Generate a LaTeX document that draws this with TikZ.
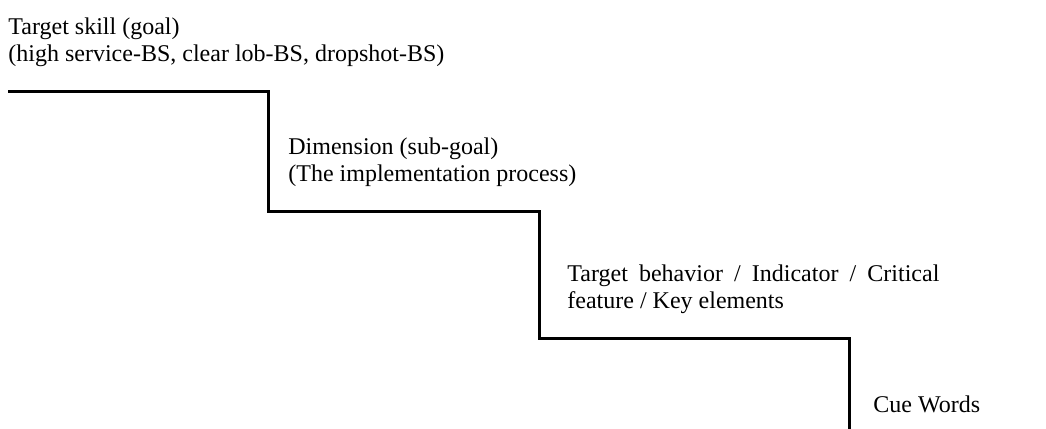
\documentclass[tikz,border=0pt]{standalone}
\usepackage{fontspec}
\setmainfont{Liberation Serif}
\usepackage{tikz}
\usetikzlibrary{calc,positioning}
\tikzset{
  stair/.style={line width=1.5pt, line join=miter},
  label/.style={anchor=base west, inner sep=0pt, align=left, font=\fontsize{12}{13.5}\selectfont}
}

\begin{document}
\begin{tikzpicture}[x=0.5pt, y=-0.5pt]
  \useasboundingbox (0,0) rectangle (1046,429);
  % corners of the steps
  \coordinate (s0) at (8,91);
  \coordinate (s1) at (268,91);
  \coordinate (s2) at (268,211);
  \coordinate (s3) at (539,211);
  \coordinate (s4) at (539,338);
  \coordinate (s5) at (849,338);
  \coordinate (s6) at (849,429);
  \draw[stair] (s0) -- (s1) -- (s2) -- (s3) -- (s4) -- (s5) -- (s6);
  % base anchor sits on the last line
  \node[label] (goal) at (8,61) {Target skill (goal)\\(high service-BS, clear lob-BS, dropshot-BS)};
  \node[label] (dim) at (288,181) {Dimension (sub-goal)\\(The implementation process)};
  \node[label] (beh) at (567,308) {\makebox[186pt][s]{Target behavior / Indicator / Critical}\\feature / Key elements};
  \node[label] (cue) at (873,412) {Cue Words};
\end{tikzpicture}
\end{document}
